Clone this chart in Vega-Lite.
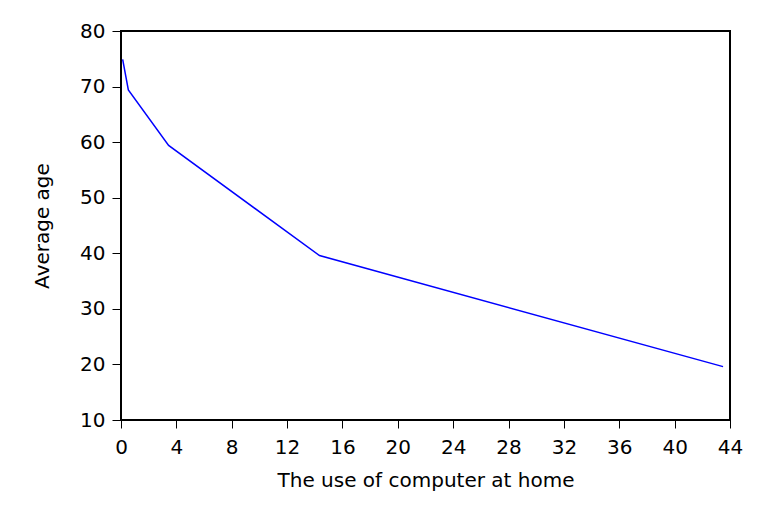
{
  "$schema": "https://vega.github.io/schema/vega-lite/v6.json",
  "autosize": {"type": "none"},
  "padding": {"left": 121, "top": 31, "right": 54, "bottom": 90},
  "width": 609,
  "height": 389,
  "background": "white",
  "config": {
    "view": {"stroke": "black", "strokeWidth": 2},
    "axis": {
      "grid": false,
      "domain": false,
      "labelFont": "DejaVu Sans",
      "labelFontSize": 20,
      "labelColor": "black",
      "titleFont": "DejaVu Sans",
      "titleFontSize": 20,
      "titleFontWeight": "normal",
      "titleColor": "black",
      "tickColor": "black",
      "tickWidth": 1
    }
  },
  "data": {
    "values": [
      {"computer": 0.12, "age": 74.9},
      {"computer": 0.53, "age": 69.4},
      {"computer": 3.44, "age": 59.4},
      {"computer": 14.34, "age": 39.6},
      {"computer": 43.5, "age": 19.6}
    ]
  },
  "mark": {"type": "line", "color": "#0000ff", "strokeWidth": 1.5},
  "encoding": {
    "x": {
      "field": "computer",
      "type": "quantitative",
      "title": "The use of computer at home",
      "scale": {"domain": [0, 44], "nice": false, "zero": false},
      "axis": {"values": [0, 4, 8, 12, 16, 20, 24, 28, 32, 36, 40, 44], "tickSize": 8, "labelPadding": 9, "titlePadding": 13, "labelFlush": false}
    },
    "y": {
      "field": "age",
      "type": "quantitative",
      "title": "Average age",
      "scale": {"domain": [10, 80], "nice": false, "zero": false},
      "axis": {"values": [10, 20, 30, 40, 50, 60, 70, 80], "tickSize": 9, "labelPadding": 7, "titlePadding": 27, "labelFlush": false, "titleFontSize": 20}
    }
  }
}
